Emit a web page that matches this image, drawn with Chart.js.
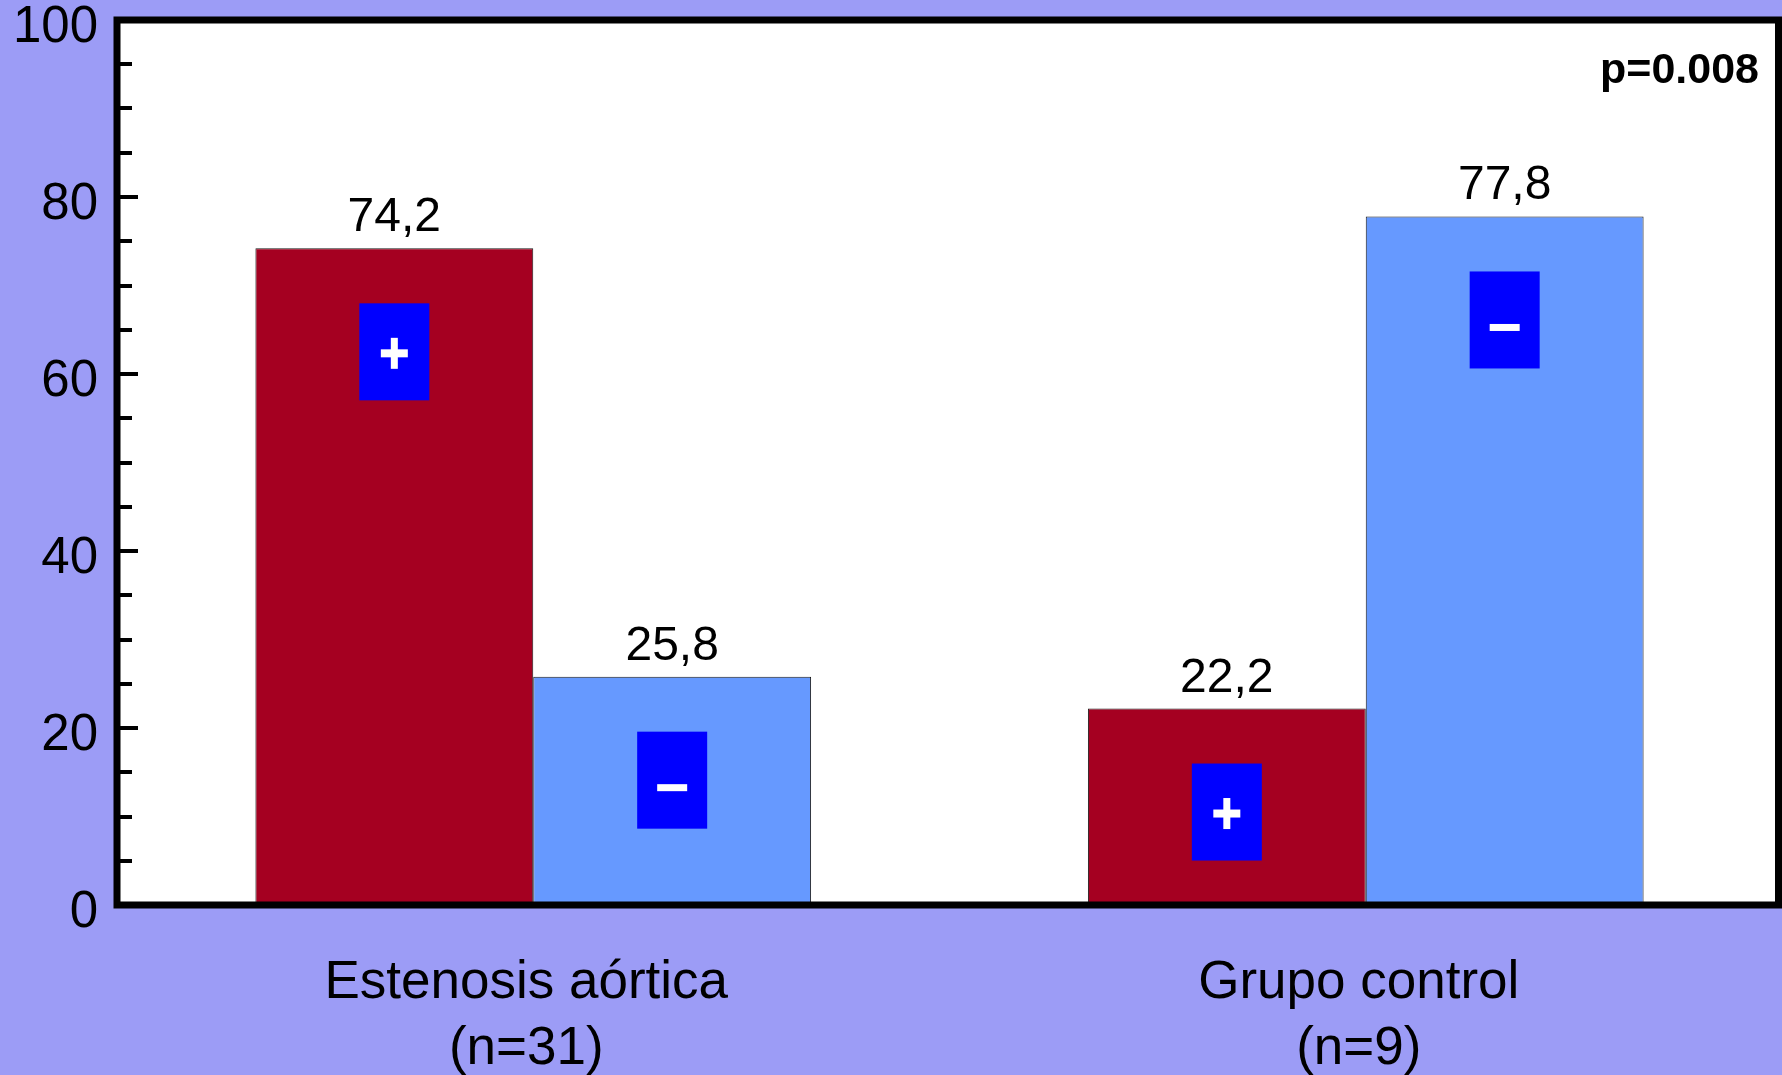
<!DOCTYPE html>
<html>
<head>
<meta charset="utf-8">
<script src="https://cdn.jsdelivr.net/npm/chart.js@4"></script>
<style>
html, body { margin: 0; padding: 0; background: #9c9cf6; }
.ChartBox { width: 1782px; height: 1075px; }
</style>
</head>
<body>
<div class="ChartBox"><canvas id="Chart"></canvas></div>
<script>
let categories = [['Estenosis aórtica', '(n=31)'], ['Grupo control', '(n=9)']];
let positivos = [74.2, 22.2];
let negativos = [25.8, 77.8];
let valueLabels = [['74,2', '22,2'], ['25,8', '77,8']];
let signos = ['+', '-'];
let yMax = 100;
let yStep = 20;
let yMinorStep = 5;
let pValue = 'p=0.008';

const FONT = '"Liberation Sans", Arial, sans-serif';

// fondo y marco del área del gráfico
const framePlugin = {
    id: 'frame',
    beforeDraw(chart) {
        let c = chart.ctx;
        let a = chart.chartArea;
        c.save();
        c.fillStyle = '#9c9cf6';
        c.fillRect(0, 0, chart.width, chart.height);
        c.fillStyle = '#ffffff';
        c.fillRect(a.left, a.top, a.right - a.left, a.bottom - a.top);
        c.restore();
    },
    afterDraw(chart) {
        let c = chart.ctx;
        let a = chart.chartArea;
        let y = chart.scales.y;
        c.save();
        c.strokeStyle = '#000';
        c.lineWidth = 7;
        c.beginPath();
        c.moveTo(a.left, a.bottom);
        c.lineTo(a.left, a.top);
        c.lineTo(a.right - 3.5, a.top);
        c.lineTo(a.right - 3.5, a.bottom);
        c.moveTo(a.left - 3.5, a.bottom);
        c.lineTo(a.right, a.bottom);
        c.stroke();

        // marcas del eje y hacia dentro
        c.lineWidth = 4;
        c.beginPath();
        for (let v = yMinorStep; v < yMax; v += yMinorStep) {
            let py = Math.round(y.getPixelForValue(v));
            let len = v % yStep === 0 ? 18 : 12;
            c.moveTo(a.left + 3, py);
            c.lineTo(a.left + 3 + len, py);
        }
        c.stroke();

        c.fillStyle = '#000';
        c.font = 'bold 43px ' + FONT;
        c.textAlign = 'right';
        c.textBaseline = 'alphabetic';
        c.fillText(pValue, a.right - 23, a.top + 63);
        c.restore();
    }
};

// etiquetas de valor y recuadros +/-
const labelsPlugin = {
    id: 'barLabels',
    afterDatasetsDraw(chart) {
        let c = chart.ctx;
        c.save();
        chart.data.datasets.forEach((ds, di) => {
            chart.getDatasetMeta(di).data.forEach((bar, i) => {
                c.fillStyle = '#000';
                c.font = '48px ' + FONT;
                c.textAlign = 'center';
                c.textBaseline = 'alphabetic';
                c.fillText(valueLabels[di][i], bar.x, bar.y - 17);

                let top = bar.y + 55;
                c.fillStyle = '#0000ff';
                c.fillRect(bar.x - 35, top, 70, 97);
                c.fillStyle = '#ffffff';
                if (signos[di] === '+') {
                    c.fillRect(bar.x - 13.5, top + 46, 27, 8);
                    c.fillRect(bar.x - 3.5, top + 34.5, 7, 31);
                } else {
                    c.fillRect(bar.x - 15, top + 52.5, 30, 7);
                }
            });
        });
        c.restore();
    }
};

let ctx = document.getElementById('Chart').getContext('2d');
new Chart(ctx, {
    type: 'bar',
    data: {
        labels: categories,
        datasets: [{
            label: '+',
            data: positivos,
            backgroundColor: '#a50021',
            borderColor: '#1a1a1a',
            borderWidth: 1
        }, {
            label: '-',
            data: negativos,
            backgroundColor: '#6699ff',
            borderColor: '#1a1a1a',
            borderWidth: 1
        }]
    },
    options: {
        responsive: true,
        maintainAspectRatio: false,
        animation: false,
        layout: { padding: { top: 20, right: 0, left: 0, bottom: 0 } },
        datasets: { bar: { categoryPercentage: 0.6675, barPercentage: 1.0 } },
        plugins: { legend: { display: false }, tooltip: { enabled: false } },
        scales: {
            x: {
                grid: { display: false },
                border: { display: false },
                ticks: {
                    color: '#000',
                    font: { family: FONT, size: 53, lineHeight: 1.245 },
                    padding: 37,
                    labelOffset: -7,
                    maxRotation: 0
                },
                afterFit(scale) {
                    scale.height = 170;
                    scale.paddingLeft = 0;
                    scale.paddingRight = 0;
                }
            },
            y: {
                min: 0,
                max: yMax,
                grid: { display: false },
                border: { display: false },
                ticks: {
                    stepSize: yStep,
                    autoSkip: false,
                    color: '#000',
                    font: { family: FONT, size: 51 },
                    padding: 11,
                    labelOffset: 8
                },
                afterFit(scale) {
                    scale.width = 117;
                    scale.paddingTop = 0;
                    scale.paddingBottom = 0;
                }
            }
        }
    },
    plugins: [framePlugin, labelsPlugin]
});
</script>
</body>
</html>
